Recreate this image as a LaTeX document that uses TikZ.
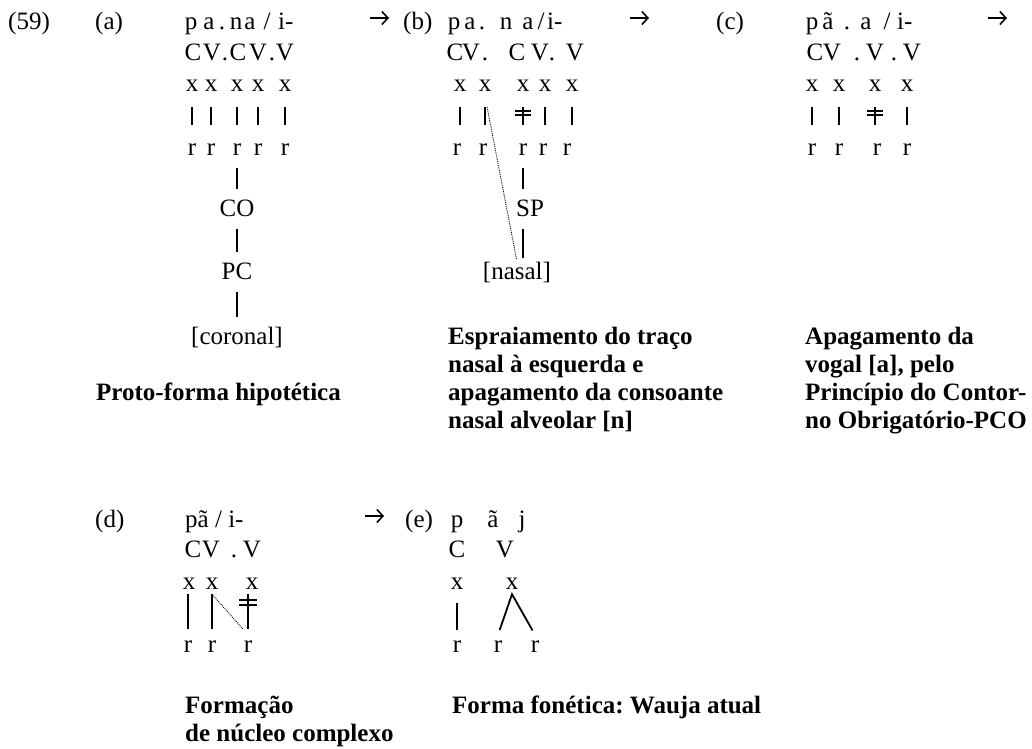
\documentclass[tikz,border=0pt]{standalone}
\usepackage{fontspec}
\setmainfont{Liberation Serif}
\usetikzlibrary{arrows.meta, calc}

\begin{document}
\begin{tikzpicture}[
    x=1pt, y=-1pt,
    font=\fontsize{25}{28}\selectfont,
    seg/.style={inner sep=0pt, anchor=base, text height=17pt, text depth=5pt},
    lbl/.style={inner sep=0pt, anchor=base west},
    caption/.style={inner sep=0pt, anchor=base west, align=left, font=\fontsize{25}{28}\selectfont\bfseries\frenchspacing},
    assoc/.style={line width=1.8pt, shorten <=11pt, shorten >=13pt},
    stem/.style={line width=1.8pt, shorten <=8pt, shorten >=10pt},
    spread/.style={densely dotted, line width=0.9pt},
    cut/.style={line width=1.5pt},
    derive/.style={-{Straight Barb[length=6pt, width=13pt]}, line width=1.6pt}
  ]
    \useasboundingbox (0,0) rectangle (1032,748);

    % Labels
    \node[lbl] (n59) at (8,29) {(59)};
    \node[lbl] (la) at (95,29) {(a)};
    \node[lbl] (lb) at (403,29) {(b)};
    \node[lbl] (lc) at (716,29) {(c)};
    \node[lbl] (ld) at (95,527) {(d)};
    \node[lbl] (le) at (405,527) {(e)};

    % Derivation arrows
    \coordinate (d1s) at (370,18); \coordinate (d1e) at (389,18);
    \coordinate (d2s) at (630,18); \coordinate (d2e) at (649,18);
    \coordinate (d3s) at (988,18); \coordinate (d3e) at (1007,18);
    \coordinate (d4s) at (365,516); \coordinate (d4e) at (384,516);
    \draw[derive] (d1s) -- (d1e);
    \draw[derive] (d2s) -- (d2e);
    \draw[derive] (d3s) -- (d3e);
    \draw[derive] (d4s) -- (d4e);

    % (a) proto-form
    \foreach \px/\ch [count=\i] in {191/p, 209/a, 222/., 236/n, 250/a, 267/\slash}
      \node[seg] (ap\i) at (\px,29) {\ch};
    \node[lbl] (ap7) at (278,29) {i-};
    \foreach \px/\ch [count=\i] in {193/C, 212/V, 225/., 238/C, 258/V, 272/., 285/V}
      \node[seg] (acv\i) at (\px,60) {\ch};
    \foreach \px [count=\i] in {192, 211, 237, 258, 285} {
      \node[seg] (ax\i) at (\px,91) {x};
      \node[seg] (ar\i) at (\px,155) {r};
      \draw[assoc] (ax\i.south) -- (ar\i.north);
    }
    \node[seg] (aco) at (237,216) {CO};
    \node[seg] (apc) at (237,279) {PC};
    \node[seg] (acor) at (237,344) {[coronal]};
    \draw[stem] (ar3.south) -- (aco.north);
    \draw[stem] (aco.south) -- (apc.north);
    \draw[stem] (apc.south) -- (acor.north);

    % (b) spreading
    \foreach \px/\ch [count=\i] in {454/p, 470/a, 482/., 506/n, 528/a, 541/\slash}
      \node[seg] (bp\i) at (\px,29) {\ch};
    \node[lbl] (bp7) at (547,29) {i-};
    \foreach \px/\ch [count=\i] in {455/C, 471/V, 485/., 517/C, 540/V, 552/., 575/V}
      \node[seg] (bcv\i) at (\px,60) {\ch};
    \foreach \px/\qx [count=\i] in {460/457, 485/483, 523/523, 545/543, 572/567} {
      \node[seg] (bx\i) at (\px,91) {x};
      \node[seg] (br\i) at (\qx,155) {r};
      \draw[assoc] (bx\i.south) -- (bx\i.south |- br\i.north);
    }
    \draw[cut] ($(bx3.south)+(-8,15)$) -- ++(16,0);
    \draw[cut] ($(bx3.south)+(-8,19)$) -- ++(16,0);
    \node[seg] (bsp) at (530,216) {SP};
    \node[seg] (bnas) at (517,279) {[nasal]};
    \draw[stem] (br3.south) -- (br3.south |- bsp.north);
    \draw[stem, shorten >=4pt] (br3.south |- bsp.south) -- (br3.south |- bnas.north);
    \draw[spread, shorten <=11pt, shorten >=3pt] (bx2.south) -- (bnas.north);

    % (c) vowel deletion
    \foreach \px/\ch [count=\i] in {812/p, 828/ã, 847/., 866/a, 887/\slash}
      \node[seg] (cp\i) at (\px,29) {\ch};
    \node[lbl] (cp6) at (897,29) {i-};
    \foreach \px/\ch [count=\i] in {815/C, 832/V, 857/., 875/V, 894/., 912/V}
      \node[seg] (ccv\i) at (\px,60) {\ch};
    \foreach \px/\qx [count=\i] in {812/812, 839/839, 875/877, 907/907} {
      \node[seg] (cx\i) at (\px,91) {x};
      \node[seg] (cr\i) at (\qx,155) {r};
      \draw[assoc] (cx\i.south) -- (cx\i.south |- cr\i.north);
    }
    \draw[cut] ($(cx3.south)+(-8,15)$) -- ++(16,0);
    \draw[cut] ($(cx3.south)+(-8,19)$) -- ++(16,0);

    % (d) complex nucleus
    \node[lbl] (dp) at (185,527) {pã / i-};
    \foreach \px/\ch [count=\i] in {193/C, 211/V, 234/., 252/V}
      \node[seg] (dcv\i) at (\px,557) {\ch};
    \foreach \px/\qx [count=\i] in {189/188, 212/212, 252/248} {
      \node[seg] (dx\i) at (\px,589) {x};
      \node[seg] (dr\i) at (\qx,652) {r};
      \draw[assoc, shorten <=0pt, shorten >=6pt] (dr\i |- dx\i.south) -- (dr\i.north);
    }
    \draw[cut] ($(dr3 |- dx3.south)+(-9,6)$) -- ++(18,0);
    \draw[cut] ($(dr3 |- dx3.south)+(-9,11)$) -- ++(18,0);
    \draw[spread, shorten >=8pt] (dx2.south) -- (dr3.north);

    % (e) phonetic form
    \foreach \px/\ch [count=\i] in {457/p, 493/ã, 522/j}
      \node[seg] (ep\i) at (\px,527) {\ch};
    \node[seg] (ec) at (457,557) {C};
    \node[seg] (ev) at (505,557) {V};
    \node[seg] (ex1) at (457,589) {x};
    \node[seg] (ex2) at (512,589) {x};
    \node[seg] (er1) at (457,652) {r};
    \node[seg] (er2) at (498,652) {r};
    \node[seg] (er3) at (535,652) {r};
    \draw[assoc, shorten <=9pt, shorten >=5pt] (ex1.south) -- (er1.north);
    \draw[assoc, shorten <=5pt, shorten >=5pt] (er2.north) -- (ex2.south) -- (er3.north);

    % Captions (anchored on their last line)
    \node[caption] (capa) at (96,400) {Proto-forma hipotética};
    \node[caption] (capb) at (448,428) {Espraiamento do traço\\nasal à esquerda e\\apagamento da consoante\\nasal alveolar [n]};
    \node[caption] (capc) at (805,428) {Apagamento da\\vogal [a], pelo\\Princípio do Contor-\\no Obrigatório-PCO};
    \node[caption] (capd) at (185,741) {Formação\\de núcleo complexo};
    \node[caption] (cape) at (452,713) {Forma fonética: Wauja atual};
  \end{tikzpicture}
\end{document}
